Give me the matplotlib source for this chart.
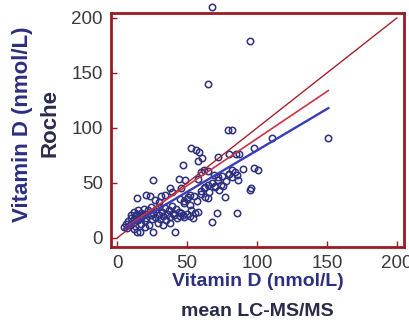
import numpy as np
import matplotlib
matplotlib.use("Agg")
import matplotlib.pyplot as plt

plt.rcParams["font.family"] = ["Liberation Sans", "DejaVu Sans"]

# ---------- data ----------
lcms = [67.6, 95, 65, 79.5, 82, 111, 150.5, 98, 53, 56.4, 58.8, 60.5, 58, 72.4,
        80, 85, 87, 47, 90, 98, 101, 62, 65, 60, 82, 80, 44, 48.6, 26, 58, 69, 72,
        76, 70, 73, 86.7, 38, 39, 46, 60, 62.5, 52, 31.6, 34, 21, 23.6, 14.5, 65,
        77, 95, 96, 27.4, 30, 45, 47.6, 51, 58, 55.7, 71.7, 86, 67.6, 26, 41.4,
        14.3, 16.7,
        5, 6, 7, 8, 9, 10, 10, 11, 12, 12, 13, 13, 14, 15, 15, 16, 17, 17, 18, 19,
        20, 20, 21, 22, 23, 24, 24, 25, 26, 27, 28, 29, 30, 30, 31, 32, 33, 34, 35,
        36, 37, 38, 39, 40, 41, 42, 43, 44, 45, 46, 47, 48, 50, 52, 53, 54, 12, 20,
        33, 38,
        48, 50, 52, 55, 57, 60, 62, 63, 65, 66, 68, 70, 72, 74, 75, 78, 80, 82, 84, 86]
roche = [210, 179, 140, 98, 98, 90.6, 90.6, 81.5, 81.5, 80, 78.5, 73, 70, 74,
         76, 76, 76, 66, 63, 64, 62, 62, 61, 60, 62, 58, 54, 53, 53, 54, 57, 55,
         47, 47, 44, 52.7, 45, 42, 45, 43, 46, 39, 38, 39.4, 39.4, 38.6, 36, 36,
         37.5, 43.6, 45, 34.5, 33, 35.7, 33.5, 37, 24, 22.4, 22.4, 22.4, 14.8, 5.7, 5.7,
         5.7, 5.7,
         10, 13, 9, 15, 12, 18, 21, 14, 17, 24, 20, 11, 22, 16, 25, 19, 13, 23, 20, 26,
         15, 22, 18, 25, 12, 21, 28, 17, 23, 19, 26, 14, 21, 28, 17, 24, 20, 27, 16,
         22, 25, 19, 29, 23, 21, 26, 18, 24, 20, 23, 21, 19, 22, 20, 25, 18, 8, 10,
         12, 14,
         32, 35, 30, 38, 34, 40, 45, 37, 48, 42, 50, 46, 53, 48, 56, 52, 58, 55, 60, 57]

# regression / identity lines
identity_x = [0, 200]
identity_y = [0, 200]
red_x = [5, 151]
red_y = [9, 134]
blue_x = [5, 151]
blue_y = [8, 118]

xticks = [0, 50, 100, 150, 200]
yticks = [0, 50, 100, 150, 200]

# ---------- colours ----------
NAVY = "#2d2f7f"
FRAME = "#9b1b22"

fig = plt.figure(figsize=(4.10, 3.25), dpi=100)
ax = fig.add_axes([0.271, 0.240, 0.714, 0.720])

ax.plot(lcms, roche, "o", mfc="none", mec=NAVY, ms=4.6, mew=1.1,
        clip_on=False, zorder=3)
ax.plot(identity_x, identity_y, color="#a3232e", lw=1.0, zorder=4)
ax.plot(red_x, red_y, color="#cc3344", lw=1.2, zorder=4)
ax.plot(blue_x, blue_y, color="#3a3db5", lw=1.7, zorder=4)

ax.set_xlim(-4.3, 205)
ax.set_ylim(-8.2, 204.5)
ax.set_xticks(xticks)
ax.set_yticks(yticks)
ax.tick_params(direction="in", length=4, width=1, color=FRAME,
               labelsize=13.5, labelcolor="#3a3a3a", pad=6)
for s in ax.spines.values():
    s.set_color(FRAME)
    s.set_linewidth(2)

# axis titles
fig.text(0.628, 1 - 282 / 325, "Vitamin D (nmol/L)", ha="center", va="center",
         fontsize=14, fontweight="bold", color=NAVY)
fig.text(0.628, 1 - 312 / 325, "mean LC-MS/MS", ha="center", va="center",
         fontsize=14, fontweight="bold", color="#2a2a4a")
fig.text(23 / 410, 1 - 124 / 325, "Vitamin D (nmol/L)", ha="center", va="center",
         rotation=90, fontsize=16, fontweight="bold", color=NAVY)
fig.text(50 / 410, 1 - 123 / 325, "Roche", ha="center", va="center",
         rotation=90, fontsize=16, fontweight="bold", color="#2a2a4a")

fig.savefig("out.png", dpi=100)
